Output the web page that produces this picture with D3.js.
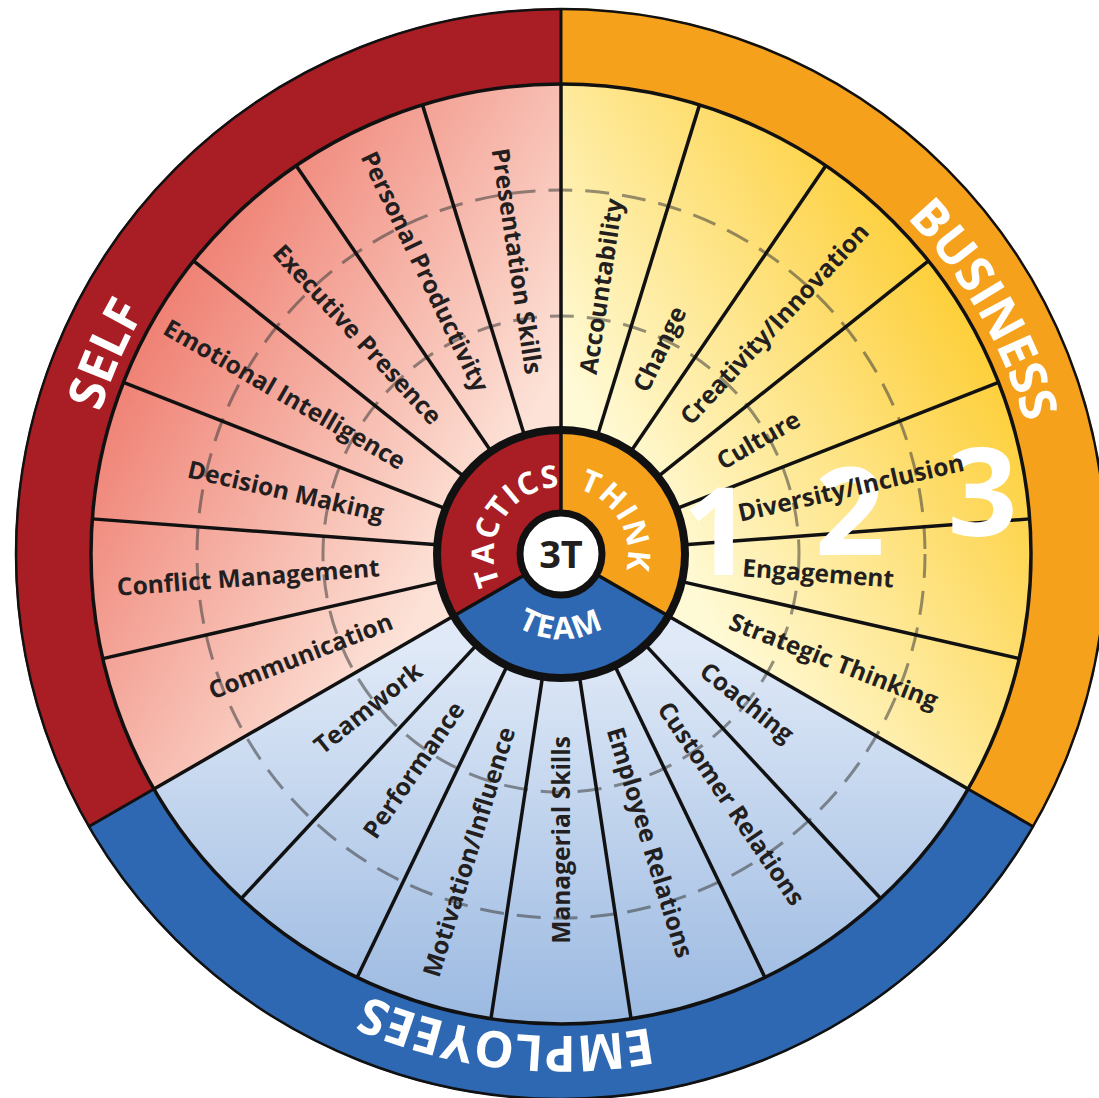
<!DOCTYPE html>
<html>
<head>
<meta charset="utf-8">
<script src="https://cdn.jsdelivr.net/npm/d3@7"></script>
<style>
  html, body { margin: 0; padding: 0; background: #fff; }
  svg { display: block; }
</style>
</head>
<body>
<div id="root"></div>
<script>
const width = 1099;
const height = 1098;

// outer ring, clockwise from 12 o'clock
const areas = ["BUSINESS", "EMPLOYEES", "SELF"];
const cores = ["THINK", "TEAM", "TACTICS"];
const businessTopics = ["Accountability", "Change", "Creativity/Innovation", "Culture", "Diversity/Inclusion", "Engagement", "Strategic Thinking"];
const employeeTopics = ["Coaching", "Customer Relations", "Employee Relations", "Managerial Skills", "Motivation/Influence", "Performance", "Teamwork"];
const selfTopics = ["Communication", "Conflict Management", "Decision Making", "Emotional Intelligence", "Executive Presence", "Personal Productivity", "Presentation Skills"];
const levels = [1, 2, 3];
const hubLabel = "3T";

const topics = [
  ...businessTopics.map((name) => ({ name, area: "BUSINESS" })),
  ...employeeTopics.map((name) => ({ name, area: "EMPLOYEES" })),
  ...selfTopics.map((name) => ({ name, area: "SELF" })),
];

const cx = 561;
const cy = 554;
const R_OUT = 546;
const R_BAND = 470;
const R_CORE = 124;
const R_HUB = 41;

const ringColor = { SELF: "#a81e24", BUSINESS: "#f5a11c", EMPLOYEES: "#2f68b2" };
const wedgeColor = {
  SELF: ["#fde2d7", "#ef8174"],
  BUSINESS: ["#fffad6", "#fdcf3a"],
  EMPLOYEES: ["#dfe9f7", "#9bb9e1"],
};
// small hand shifts of the ring titles (degrees)
const titleShift = { BUSINESS: 0, EMPLOYEES: 6.5, SELF: -6.3 };
const coreShift = { THINK: 0, TEAM: 0, TACTICS: 2 };

const TAU = Math.PI * 2;
const deg = (r) => (r * 180) / Math.PI;

const topicAngle = d3.scaleBand().domain(topics.map((d) => d.name)).range([0, TAU]);
const areaAngle = d3.scaleBand().domain(areas).range([0, TAU]);
const coreAngle = d3.scaleBand().domain(cores).range([0, TAU]);
// level bands between the core and the outer ring
const levelRadius = d3.scaleLinear().domain([0, 1, 2, 3]).range([R_CORE, 238, 364, R_BAND]);
const digitRadius = d3.scaleLinear().domain([1, 3]).range([158, 426]);
const DIGIT_ANGLE = 81.7;

const pt = (r, a) => {
  const t = (a * Math.PI) / 180;
  return [cx + r * Math.sin(t), cy - r * Math.cos(t)];
};

function arcPath(r, mid, cw) {
  const a0 = cw ? mid - 90 : mid + 90;
  const a1 = cw ? mid + 90 : mid - 90;
  const [x0, y0] = pt(r, a0);
  const [x1, y1] = pt(r, a1);
  return `M${x0},${y0} A${r},${r} 0 0 ${cw ? 1 : 0} ${x1},${y1}`;
}

const svg = d3
  .select("#root")
  .append("svg")
  .attr("width", width)
  .attr("height", height)
  .attr("viewBox", [0, 0, width, height]);

const defs = svg.append("defs");

// gradients live in the centred group's space
areas.forEach((a) => {
  const mid = areaAngle(a) + areaAngle.bandwidth() / 2;
  const grad = defs
    .append("linearGradient")
    .attr("id", "grad-" + a)
    .attr("gradientUnits", "userSpaceOnUse")
    .attr("x1", 0)
    .attr("y1", 0)
    .attr("x2", R_BAND * Math.sin(mid))
    .attr("y2", -R_BAND * Math.cos(mid));
  grad.append("stop").attr("offset", 0.2).attr("stop-color", wedgeColor[a][0]);
  grad.append("stop").attr("offset", 1).attr("stop-color", wedgeColor[a][1]);
});

const g = svg.append("g").attr("transform", `translate(${cx},${cy})`);

// outer ring
const ringArc = d3.arc().innerRadius(R_BAND).outerRadius(R_OUT);
g.append("g")
  .selectAll("path")
  .data(areas)
  .join("path")
  .attr("d", (a) =>
    ringArc({ startAngle: areaAngle(a), endAngle: areaAngle(a) + areaAngle.bandwidth() })
  )
  .attr("fill", (a) => ringColor[a]);

// topic wedges
const wedgeArc = d3.arc().innerRadius(R_CORE).outerRadius(R_BAND);
g.append("g")
  .selectAll("path")
  .data(topics)
  .join("path")
  .attr("d", (d) =>
    wedgeArc({
      startAngle: topicAngle(d.name),
      endAngle: topicAngle(d.name) + topicAngle.bandwidth(),
    })
  )
  .attr("fill", (d) => `url(#grad-${d.area})`)
  .attr("stroke", (d) => `url(#grad-${d.area})`)
  .attr("stroke-width", 1);

// dashed level circles
g.append("g")
  .selectAll("circle")
  .data(levels.slice(0, -1))
  .join("circle")
  .attr("r", (d) => levelRadius(d))
  .attr("fill", "none")
  .attr("stroke", "rgba(60,60,60,0.55)")
  .attr("stroke-width", 3)
  .attr("stroke-dasharray", "24 13");

// wedge dividers
g.append("g")
  .selectAll("line")
  .data(topics)
  .join("line")
  .attr("x1", (d) => R_CORE * Math.sin(topicAngle(d.name)))
  .attr("y1", (d) => -R_CORE * Math.cos(topicAngle(d.name)))
  .attr("x2", (d) => R_BAND * Math.sin(topicAngle(d.name)))
  .attr("y2", (d) => -R_BAND * Math.cos(topicAngle(d.name)))
  .attr("stroke", "#111")
  .attr("stroke-width", 3.5);

// ring dividers
g.append("g")
  .selectAll("line")
  .data(areas)
  .join("line")
  .attr("x1", (a) => R_BAND * Math.sin(areaAngle(a)))
  .attr("y1", (a) => -R_BAND * Math.cos(areaAngle(a)))
  .attr("x2", (a) => R_OUT * Math.sin(areaAngle(a)))
  .attr("y2", (a) => -R_OUT * Math.cos(areaAngle(a)))
  .attr("stroke", "#111")
  .attr("stroke-width", 3);

g.append("circle").attr("r", R_BAND).attr("fill", "none").attr("stroke", "#111").attr("stroke-width", 3.5);
g.append("circle").attr("r", R_OUT - 1).attr("fill", "none").attr("stroke", "#111").attr("stroke-width", 2.5);

// big level digits
g.append("g")
  .selectAll("text")
  .data(levels)
  .join("text")
  .attr("x", (d) => digitRadius(d) * Math.sin((DIGIT_ANGLE * Math.PI) / 180))
  .attr("y", (d) => -digitRadius(d) * Math.cos((DIGIT_ANGLE * Math.PI) / 180))
  .attr("dy", "0.357em")
  .attr("text-anchor", "middle")
  .attr("font-family", "'Open Sans', sans-serif")
  .attr("font-weight", 700)
  .attr("font-size", 122)
  .attr("fill", "#fff")
  .text((d) => d);

// topic labels along the radius
const LABEL_R = 182;
g.append("g")
  .selectAll("text")
  .data(topics)
  .join("text")
  .each(function (d) {
    const mid = deg(topicAngle(d.name) + topicAngle.bandwidth() / 2);
    const outward = mid <= 180;
    d3.select(this)
      .attr("transform", `rotate(${outward ? mid - 90 : mid + 90})`)
      .attr("x", outward ? LABEL_R : -LABEL_R)
      .attr("text-anchor", outward ? "start" : "end");
  })
  .attr("dy", "0.35em")
  .attr("font-family", "'Open Sans', sans-serif")
  .attr("font-weight", 700)
  .attr("font-size", 24.5)
  .attr("fill", "#231f20")
  .text((d) => d.name);

// ring titles on arcs, clockwise, letter tops outward
areas.forEach((a, i) => {
  const mid = deg(areaAngle(a) + areaAngle.bandwidth() / 2) + titleShift[a];
  defs.append("path").attr("id", "title-" + i).attr("d", arcPath(482, mid, true));
});
svg
  .append("g")
  .selectAll("text")
  .data(areas)
  .join("text")
  .attr("font-family", "'Open Sans', sans-serif")
  .attr("font-weight", 700)
  .attr("font-size", 50)
  .attr("fill", "#fff")
  .append("textPath")
  .attr("href", (a, i) => "#title-" + i)
  .attr("startOffset", "50%")
  .attr("text-anchor", "middle")
  .text((a) => a);

// core ring
const coreArc = d3.arc().innerRadius(R_HUB).outerRadius(R_CORE);
g.append("g")
  .selectAll("path")
  .data(cores)
  .join("path")
  .attr("d", (c) =>
    coreArc({ startAngle: coreAngle(c), endAngle: coreAngle(c) + coreAngle.bandwidth() })
  )
  .attr("fill", (c, i) => ringColor[areas[i]]);

g.append("g")
  .selectAll("line")
  .data(cores)
  .join("line")
  .attr("x1", (c) => R_HUB * Math.sin(coreAngle(c)))
  .attr("y1", (c) => -R_HUB * Math.cos(coreAngle(c)))
  .attr("x2", (c) => R_CORE * Math.sin(coreAngle(c)))
  .attr("y2", (c) => -R_CORE * Math.cos(coreAngle(c)))
  .attr("stroke", "#111")
  .attr("stroke-width", 3.5);

g.append("circle").attr("r", R_CORE).attr("fill", "none").attr("stroke", "#111").attr("stroke-width", 8);

cores.forEach((c, i) => {
  const mid = deg(coreAngle(c) + coreAngle.bandwidth() / 2) + coreShift[c];
  const bottom = mid > 90 && mid < 270;
  defs
    .append("path")
    .attr("id", "core-" + i)
    .attr("d", arcPath(bottom ? 85 : 67, mid, !bottom));
});
svg
  .append("g")
  .selectAll("text")
  .data(cores)
  .join("text")
  .attr("font-family", "'Open Sans', sans-serif")
  .attr("font-weight", 700)
  .attr("font-size", 31)
  .attr("letter-spacing", 1.5)
  .attr("fill", "#fff")
  .append("textPath")
  .attr("href", (c, i) => "#core-" + i)
  .attr("startOffset", "50%")
  .attr("text-anchor", "middle")
  .text((c) => c);

// hub
g.append("circle").attr("r", R_HUB).attr("fill", "#fff").attr("stroke", "#111").attr("stroke-width", 7);
g.append("text")
  .attr("dy", "0.36em")
  .attr("text-anchor", "middle")
  .attr("font-family", "'Open Sans', sans-serif")
  .attr("font-weight", 700)
  .attr("font-size", 38)
  .attr("fill", "#231f20")
  .text(hubLabel);
</script>
</body>
</html>
